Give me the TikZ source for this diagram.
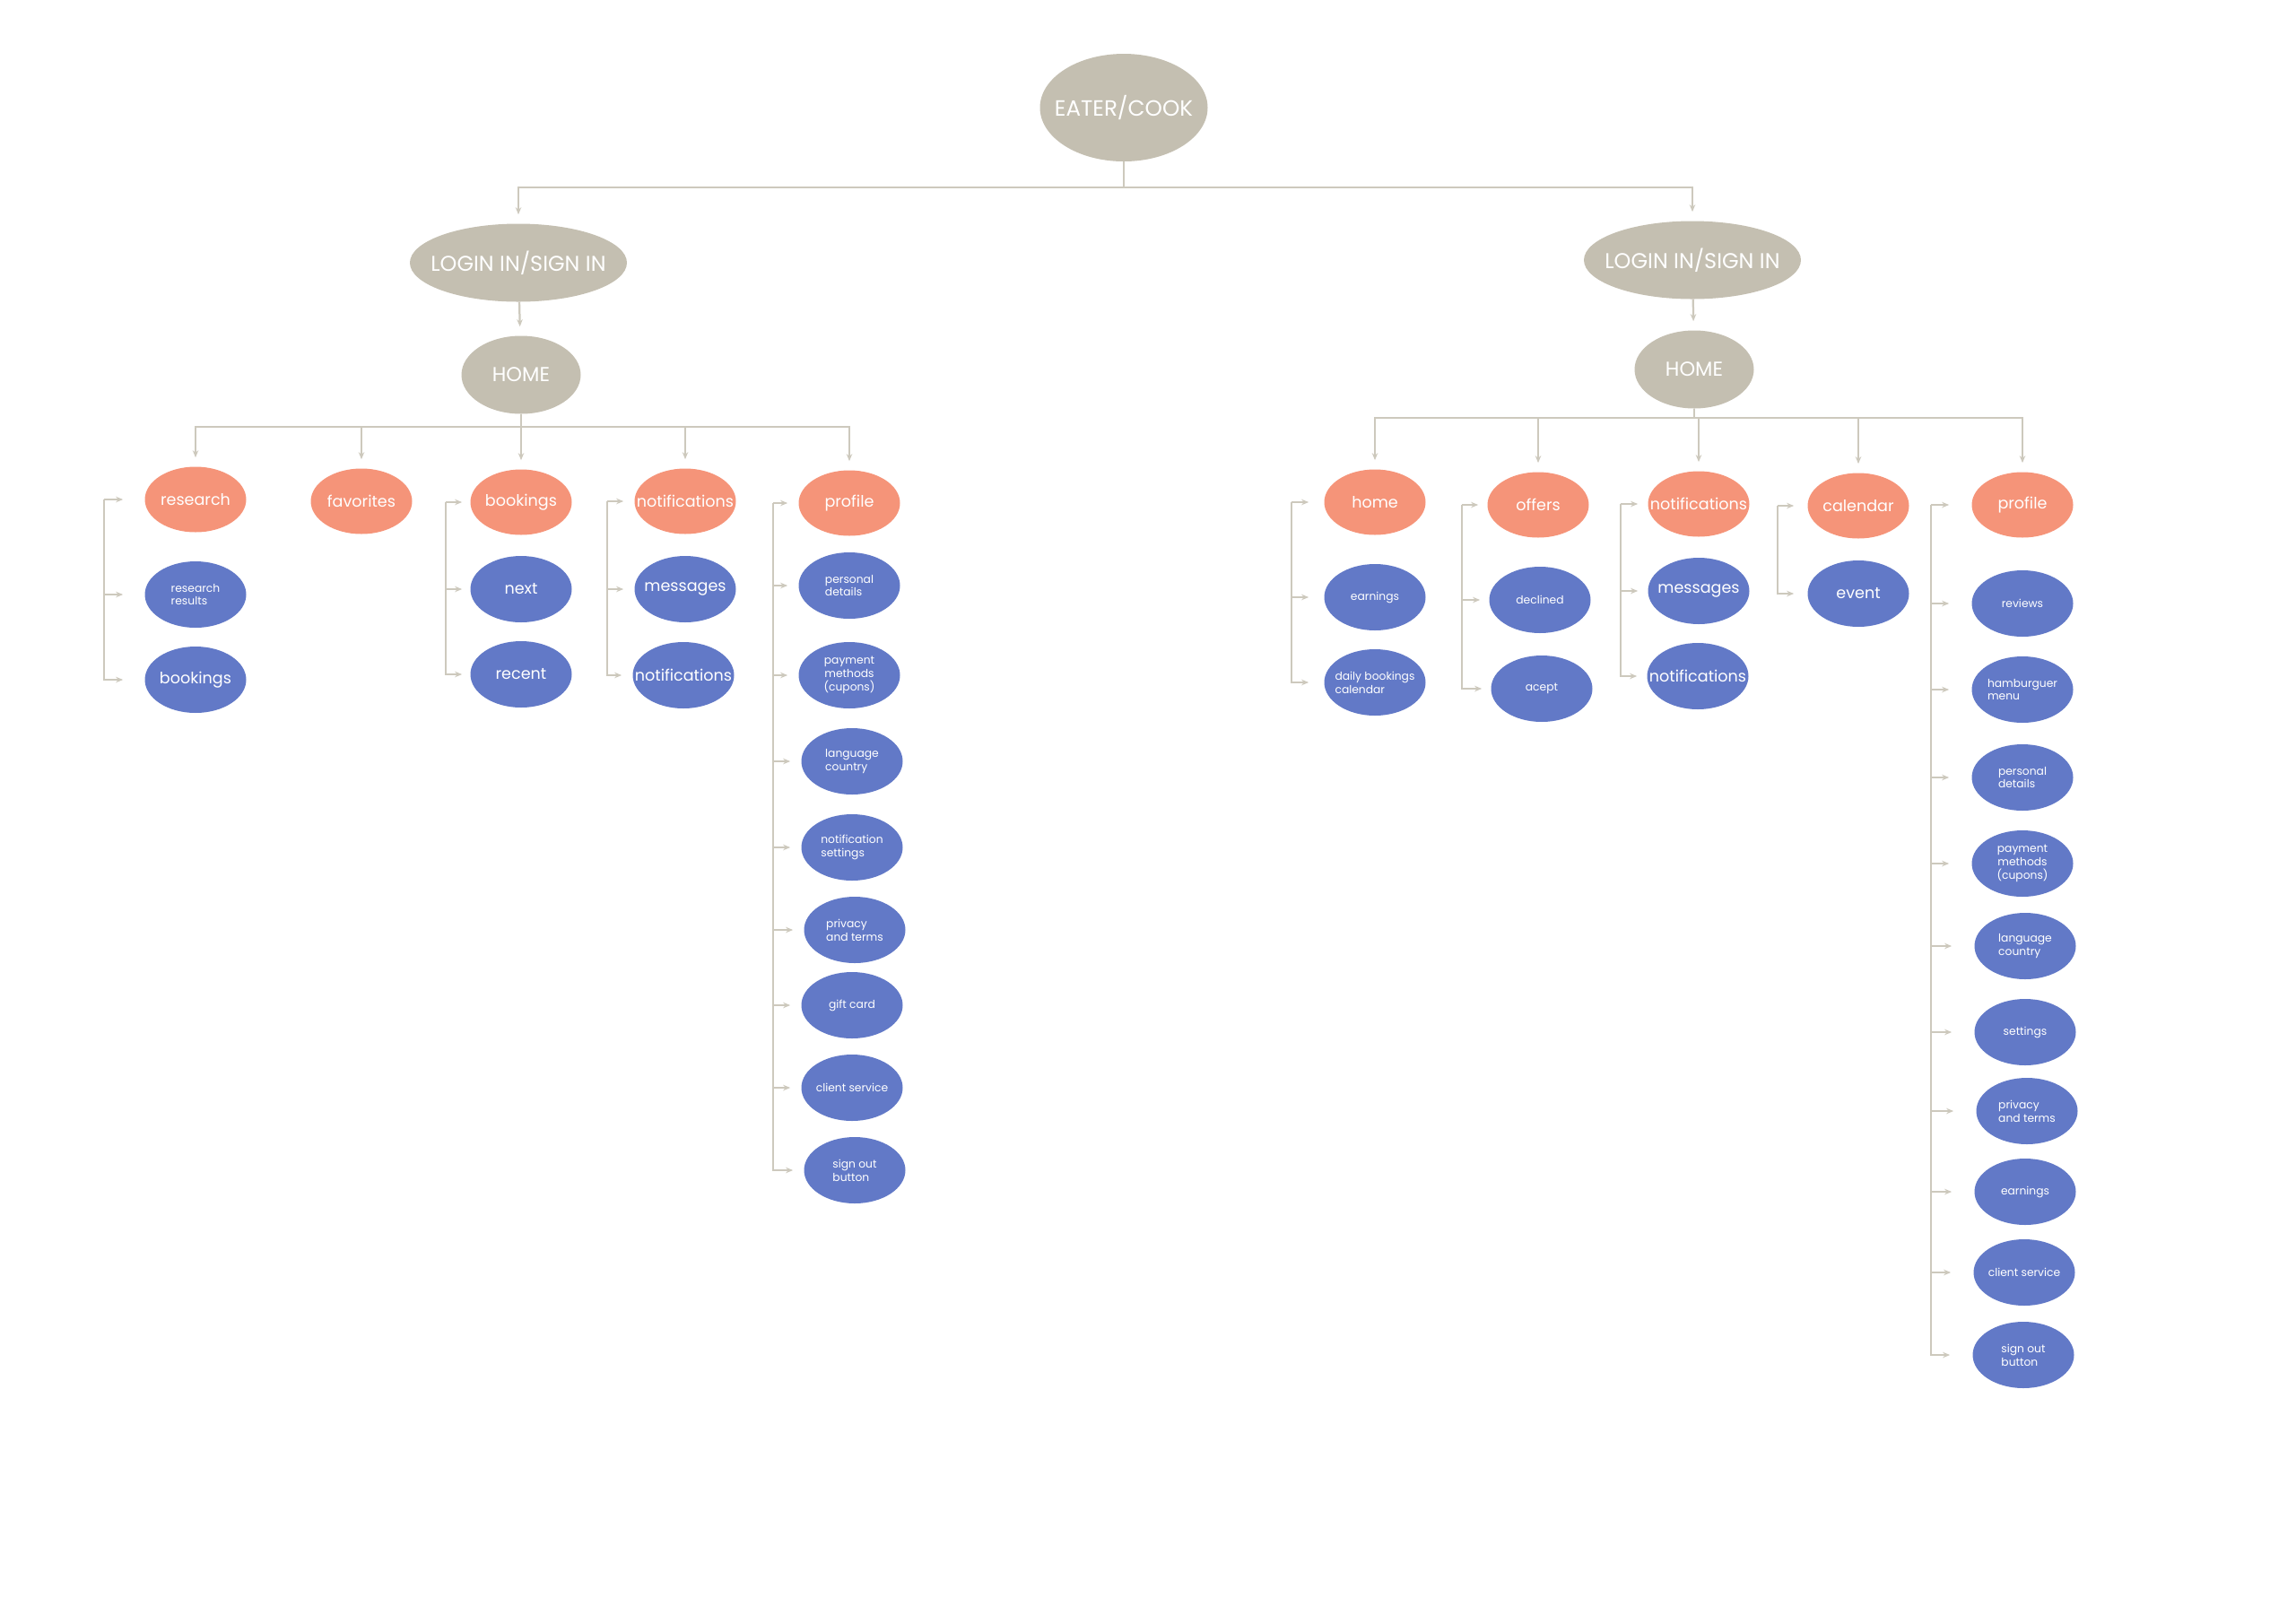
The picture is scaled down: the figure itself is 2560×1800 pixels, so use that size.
\documentclass[tikz,border=0pt]{standalone}
\usepackage{fontspec}
\setmainfont{Poppins}
\setsansfont{Poppins}
\usetikzlibrary{shapes.geometric,arrows.meta}

\tikzset{
	bubble/.style={ellipse, inner xsep=-10pt, inner ysep=0pt, text=white, align=center},
	rootnode/.style={bubble, fill=headcolor, minimum width=37.4mm, minimum height=24mm, font=\sffamily\fontsize{14}{16}\selectfont},
	loginnode/.style={bubble, fill=headcolor, minimum width=48.4mm, minimum height=17.4mm, font=\sffamily\fontsize{13.6}{16}\selectfont},
	homenode/.style={bubble, fill=headcolor, minimum width=26.6mm, minimum height=17.4mm, font=\sffamily\fontsize{12.8}{15}\selectfont},
	section/.style={bubble, fill=sectioncolor, minimum width=22.6mm, minimum height=14.6mm, font=\sffamily\fontsize{10}{12}\selectfont},
	page/.style={bubble, fill=pagecolor, minimum width=22.6mm, minimum height=14.8mm, font=\sffamily\fontsize{10}{12}\selectfont},
	pagesmall/.style={page, font=\sffamily\fontsize{7}{8.4}\selectfont},
	conn/.style={draw=linecolor, line width=0.45mm},
	arr/.style={conn, -{Stealth[length=1.6mm,width=1.3mm]}, shorten >=2mm},
}

\begin{document}
\begin{tikzpicture}[font=\sffamily, x=0.2mm, y=-0.2mm]
		% Define colors
		\definecolor{headcolor}{RGB}{196,191,177}
		\definecolor{sectioncolor}{RGB}{245,148,121}
		\definecolor{pagecolor}{RGB}{98,121,199}
		\definecolor{linecolor}{RGB}{205,201,189}
		\useasboundingbox (0,0) rectangle (2560,1800);
		% Root and login/home
		\node[rootnode] (eater) at (1253,120) {EATER/COOK};
		\node[loginnode] (loginL) at (578,293) {LOGIN IN/SIGN IN};
		\node[homenode] (homeL) at (581,418) {HOME};
		\node[loginnode] (loginR) at (1887,290) {LOGIN IN/SIGN IN};
		\node[homenode] (homeR) at (1889,412) {HOME};
		% Eater sections (left)
		\node[section] (researchL) at (218,557) {research};
		\node[section] (favoritesL) at (403,559) {favorites};
		\node[section] (bookingsL) at (581,560) {bookings};
		\node[section] (notifL) at (764,559) {notifications};
		\node[section] (profileL) at (947,561) {profile};
		% Eater pages (left)
		\node[pagesmall, align=left] (resultsL) at (218,663) {research\\results};
		\node[page] (bookL) at (218,758) {bookings};
		\node[page] (nextL) at (581,657) {next};
		\node[page] (recentL) at (581,752) {recent};
		\node[page] (messagesL) at (764,657) {messages};
		\node[page] (notifsL) at (762,753) {notifications};
		\node[pagesmall, align=left] (personalL) at (947,653) {personal\\details};
		\node[pagesmall] (paymentL) at (947,753) {payment\\methods\\(cupons)};
		\node[pagesmall, align=left] (languageL) at (950,849) {language\\country};
		\node[pagesmall, align=left] (notsetL) at (950,945) {notification\\settings};
		\node[pagesmall, align=left] (privacyL) at (953,1037) {privacy\\and terms};
		\node[pagesmall] (giftL) at (950,1121) {gift card};
		\node[pagesmall] (clientL) at (950,1213) {client service};
		\node[pagesmall, align=left] (signoutL) at (953,1305) {sign out\\button};
		% Cook sections (right)
		\node[section] (homeS) at (1533,560) {home};
		\node[section] (offersR) at (1715,563) {offers};
		\node[section] (notifR) at (1894,562) {notifications};
		\node[section] (calendarR) at (2072,564) {calendar};
		\node[section] (profileR) at (2255,563) {profile};
		% Cook pages (right)
		\node[pagesmall] (earnR) at (1533,666) {earnings};
		\node[pagesmall, align=left] (dailyR) at (1533,761) {daily bookings\\calendar};
		\node[pagesmall] (declinedR) at (1717,669) {declined};
		\node[pagesmall] (aceptR) at (1719,768) {acept};
		\node[page] (messagesR) at (1894,659) {messages};
		\node[page] (notifsR) at (1893,754) {notifications};
		\node[page] (eventR) at (2072,662) {event};
		\node[pagesmall] (reviewsR) at (2255,673) {reviews};
		\node[pagesmall, align=left] (hamburgR) at (2255,769) {hamburguer\\menu};
		\node[pagesmall, align=left] (personalR) at (2255,867) {personal\\details};
		\node[pagesmall] (paymentR) at (2255,963) {payment\\methods\\(cupons)};
		\node[pagesmall, align=left] (languageR) at (2258,1055) {language\\country};
		\node[pagesmall] (settingsR) at (2258,1151) {settings};
		\node[pagesmall, align=left] (privacyR) at (2260,1239) {privacy\\and terms};
		\node[pagesmall] (earningsR) at (2258,1329) {earnings};
		\node[pagesmall] (clientR) at (2257,1419) {client service};
		\node[pagesmall, align=left] (signoutR) at (2256,1511) {sign out\\button};
		% Top connectors
		\coordinate (topbus) at (1253,209);
		\draw[conn] (eater) -- (topbus);
		\draw[arr] (topbus) -| (loginL);
		\draw[arr] (topbus) -| (loginR);
		\draw[arr] (loginL) -- (homeL);
		\draw[arr] (loginR) -- (homeR);
		% Home buses
		\coordinate (busL) at (581,476);
		\coordinate (busR) at (1889,466);
		\draw[conn] (homeL) -- (busL);
		\draw[conn] (homeR) -- (busR);
		\foreach \n in {researchL,favoritesL,bookingsL,notifL,profileL}
			\draw[arr] (busL) -| (\n);
		\foreach \n in {homeS,offersR,notifR,calendarR,profileR}
			\draw[arr] (busR) -| (\n);
		% Brackets (left)
		\coordinate (brkA) at (116,0);
		\coordinate (brkB) at (497,0);
		\coordinate (brkC) at (677,0);
		\coordinate (brkD) at (862,0);
		\foreach \n in {researchL,resultsL,bookL}
			\draw[arr, shorten >=4.8mm] (brkA |- researchL) |- (\n);
		\foreach \n in {bookingsL,nextL,recentL}
			\draw[arr, shorten >=1.8mm] (brkB |- bookingsL) |- (\n);
		\foreach \n in {notifL,messagesL,notifsL}
			\draw[arr, shorten >=2.4mm] (brkC |- notifL) |- (\n);
		\foreach \n in {profileL,personalL,paymentL,languageL,notsetL,privacyL,giftL,clientL,signoutL}
			\draw[arr, shorten >=2.4mm] (brkD |- profileL) |- (\n);
		% Brackets (right)
		\coordinate (brkE) at (1440,0);
		\coordinate (brkF) at (1630,0);
		\coordinate (brkG) at (1807,0);
		\coordinate (brkH) at (1982,0);
		\coordinate (brkI) at (2153,0);
		\foreach \n in {homeS,earnR,dailyR}
			\draw[arr, shorten >=3.4mm] (brkE |- homeS) |- (\n);
		\foreach \n in {offersR,declinedR,aceptR}
			\draw[arr, shorten >=2mm] (brkF |- offersR) |- (\n);
		\foreach \n in {notifR,messagesR,notifsR}
			\draw[arr, shorten >=2.2mm] (brkG |- notifR) |- (\n);
		\foreach \n in {calendarR,eventR}
			\draw[arr, shorten >=3mm] (brkH |- calendarR) |- (\n);
		\foreach \n in {profileR,reviewsR,hamburgR,personalR,paymentR,languageR,settingsR,privacyR,earningsR,clientR,signoutR}
			\draw[arr, shorten >=5mm] (brkI |- profileR) |- (\n);
	\end{tikzpicture}
\end{document}
